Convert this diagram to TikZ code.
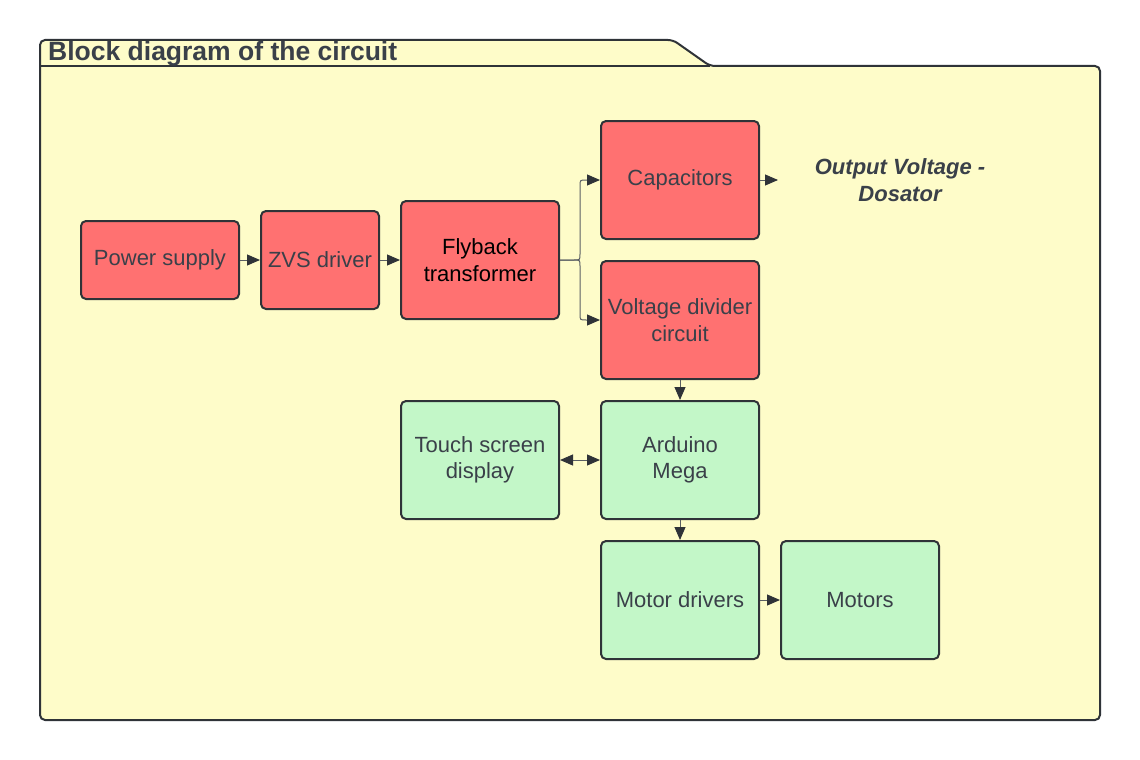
\documentclass[tikz,border=0pt]{standalone}
\usepackage{fontspec}
\setmainfont{Liberation Sans}
\usetikzlibrary{arrows.meta}
\definecolor{bgyellow}{HTML}{FEFCC9}
\definecolor{boxred}{HTML}{FF7171}
\definecolor{boxgreen}{HTML}{C3F7C8}
\definecolor{edge}{HTML}{2F3338}
\definecolor{txt}{HTML}{3A4049}
\definecolor{connc}{HTML}{5A5E63}
\tikzset{
  blk/.style={draw=edge, line width=2pt, rounded corners=5pt, align=center,
    text=txt, font=\fontsize{22}{26.5}\selectfont, inner sep=2pt},
  redblk/.style={blk, fill=boxred},
  greenblk/.style={blk, fill=boxgreen},
  tip/.style={Triangle[length=13pt,width=11pt,color=edge]},
  conn/.style={draw=connc, line width=1pt, -{Triangle[length=13pt,width=11pt,color=edge]}},
  dconn/.style={draw=connc, line width=1pt, {Triangle[length=13pt,width=11pt,color=edge]}-{Triangle[length=13pt,width=11pt,color=edge]}},
}
\begin{document}
\begin{tikzpicture}[x=1pt,y=-1pt]
\useasboundingbox (0,0) rectangle (1140,760);
\fill[white] (0,0) rectangle (1140,760);
% frame
\draw[draw=edge, line width=2pt, fill=bgyellow, rounded corners=5pt]
  (40,720) -- (40,40) -- (673,40) -- (710,66) -- (1100,66) -- (1100,720) -- cycle;
\draw[draw=edge, line width=2pt] (40,66) -- (710,66);
\node[anchor=base west, text=txt, font=\fontsize{26.5}{30}\selectfont\bfseries, inner sep=0pt] (title) at (48,61) {Block diagram of the circuit};
% boxes
\node[redblk, minimum width=158pt, minimum height=78pt] (ps) at (160,260) {Power supply};
\node[redblk, minimum width=118pt, minimum height=98pt] (zvs) at (320,260) {ZVS driver};
\node[redblk, minimum width=158pt, minimum height=118pt, text=black] (fly) at (480,260) {Flyback\\transformer};
\node[redblk, minimum width=158pt, minimum height=118pt] (cap) at (680,180) {Capacitors};
\node[redblk, minimum width=158pt, minimum height=118pt] (vd) at (680,320) {Voltage divider\\circuit};
\node[greenblk, minimum width=158pt, minimum height=118pt] (ts) at (480,460) {Touch screen\\display};
\node[greenblk, minimum width=158pt, minimum height=118pt] (ard) at (680,460) {Arduino\\Mega};
\node[greenblk, minimum width=158pt, minimum height=118pt] (md) at (680,600) {Motor drivers};
\node[greenblk, minimum width=158pt, minimum height=118pt] (mot) at (860,600) {Motors};
\node[align=center, text=txt, font=\fontsize{22}{27}\selectfont\bfseries\itshape] (out) at (900,180) {Output Voltage -\\Dosator};
\coordinate (outin) at (778,180);
% connectors
\draw[conn] (ps.east) -- (zvs.west);
\draw[conn] (zvs.east) -- (fly.west);
\draw[conn] (fly.east) -- (574,260) .. controls (580,260) .. (580,254) -- (580,186) .. controls (580,180) .. (586,180) -- (cap.west);
\draw[conn] (fly.east) -- (574,260) .. controls (580,260) .. (580,266) -- (580,314) .. controls (580,320) .. (586,320) -- (vd.west);
\draw[conn] (cap.east) -- (outin);
\draw[conn] (vd.south) -- (ard.north);
\draw[dconn] (ts.east) -- (ard.west);
\draw[conn] (ard.south) -- (md.north);
\draw[conn] (md.east) -- (mot.west);
\end{tikzpicture}
\end{document}
